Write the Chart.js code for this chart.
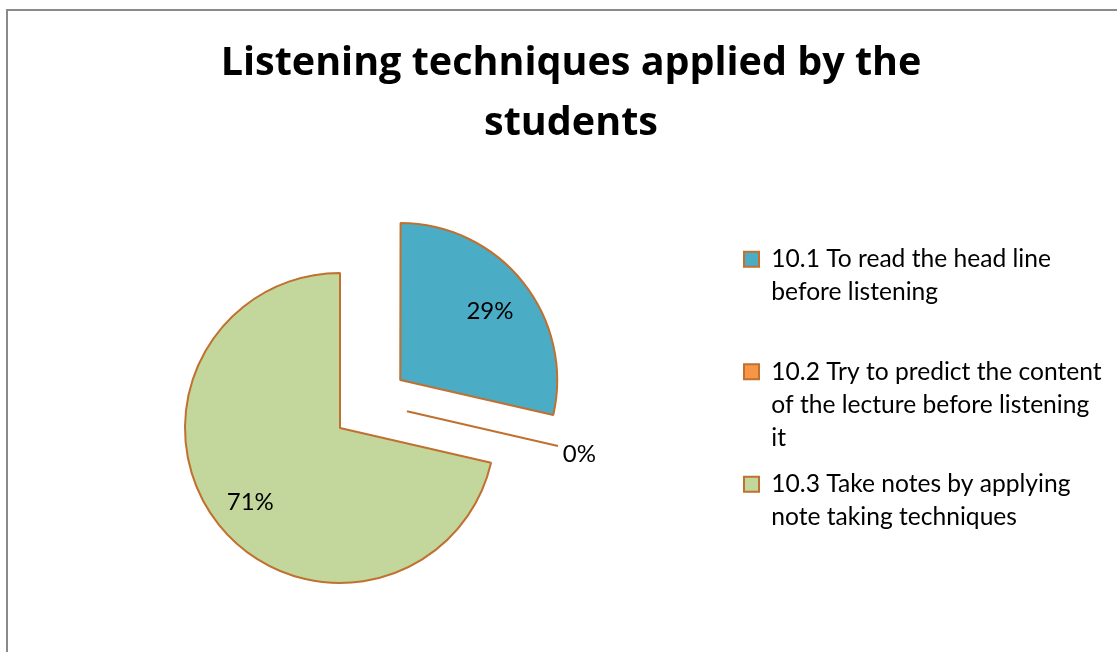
<!DOCTYPE html>
<html>
<head>
<meta charset="utf-8">
<script src="https://cdn.jsdelivr.net/npm/chart.js@4/dist/chart.umd.min.js"></script>
<style>
  html, body { margin: 0; padding: 0; background: #fff; overflow: hidden; }
  #wrap { position: relative; width: 1117px; height: 652px; }
  #wrap canvas { position: absolute; left: 0; top: 0; }
  #frame {
    position: absolute; left: 6px; top: 9px; width: 1200px; height: 700px;
    border-left: 2px solid #8a8a8a; border-top: 2px solid #8a8a8a;
    pointer-events: none;
  }
</style>
</head>
<body>
<div id="wrap">
  <canvas id="chart" width="1117" height="652"></canvas>
  <div id="frame"></div>
</div>
<script>
// Chart text and values
const titleLines = ['Listening techniques applied by the', 'students'];
const categories = [
  ['10.1 To read the head line', 'before listening'],
  ['10.2 Try to predict the content', 'of the lecture before listening', 'it'],
  ['10.3 Take notes by applying', 'note taking techniques']
];
const shares = [28.6, 0, 71.4];

// Styling
const sliceColors = ['#4BACC6', '#F79646', '#C3D69B'];
const edgeColor = '#C0702F';
const FONT = 'Lato, "Open Sans", sans-serif';
const TITLE_FONT = '"Open Sans", Lato, sans-serif';

const PIE_RADIUS = 155;
const LEGEND_GAP = 122;          // empty band between the pie area and the legend
const ZERO_EXPLODE = 69;         // pull-out distance of an empty slice
const ZERO_TURN = -27 * Math.PI / 180;

// Reserves an empty band on the right of the plot area, inside the legend,
// and lets the legend text run on to the right edge of the canvas.
const legendGap = {
  id: 'legendGap',
  beforeInit(chart) {
    Chart.layouts.addBox(chart, {
      position: 'right', weight: 500, fullSize: false,
      options: {},
      width: 0, height: 0, left: 0, top: 0, right: 0, bottom: 0,
      isHorizontal() { return false; },
      getPadding() { return { left: 0, top: 0, right: 0, bottom: 0 }; },
      update(maxWidth, maxHeight) { this.width = LEGEND_GAP; this.height = maxHeight; },
      draw() {}
    });
  },
  afterLayout(chart) {
    const lg = chart.legend;
    if (lg) {
      lg.right = chart.width;
      lg.width = lg.right - lg.left;
    }
  }
};

function zeroApex(arc) {
  const a = arc.startAngle + ZERO_TURN;
  return { x: arc.x + Math.cos(a) * ZERO_EXPLODE, y: arc.y + Math.sin(a) * ZERO_EXPLODE };
}

// Empty slices are drawn as a single pulled-out edge line.
const zeroSlices = {
  id: 'zeroSlices',
  afterDatasetsDraw(chart) {
    const meta = chart.getDatasetMeta(0);
    const ctx = chart.ctx;
    ctx.save();
    meta.data.forEach((arc) => {
      if (arc.endAngle - arc.startAngle > 0) return;
      const p = zeroApex(arc);
      const a = arc.startAngle;
      ctx.strokeStyle = arc.options.borderColor;
      ctx.lineWidth = arc.options.borderWidth;
      ctx.beginPath();
      ctx.moveTo(p.x, p.y);
      ctx.lineTo(p.x + Math.cos(a) * arc.outerRadius, p.y + Math.sin(a) * arc.outerRadius);
      ctx.stroke();
    });
    ctx.restore();
  }
};

// Percentage labels on each slice.
const sliceLabels = {
  id: 'sliceLabels',
  afterDatasetsDraw(chart) {
    const meta = chart.getDatasetMeta(0);
    const values = chart.data.datasets[0].data;
    const total = values.reduce((s, v) => s + v, 0);
    const ctx = chart.ctx;
    ctx.save();
    ctx.font = '24px ' + FONT;
    ctx.fillStyle = '#000';
    ctx.textAlign = 'center';
    ctx.textBaseline = 'middle';
    meta.data.forEach((arc, i) => {
      const text = Math.round(values[i] / total * 100) + '%';
      const mid = (arc.startAngle + arc.endAngle) / 2;
      let x, y;
      if (arc.endAngle - arc.startAngle <= 0) {
        const p = zeroApex(arc);
        x = p.x + Math.cos(mid) * (arc.outerRadius + 22);
        y = p.y + Math.sin(mid) * (arc.outerRadius + 22);
      } else {
        const shift = (arc.options.offset || 0) / 4;
        const r = shift + arc.outerRadius * 0.74;
        x = arc.x + Math.cos(mid) * r;
        y = arc.y + Math.sin(mid) * r;
      }
      ctx.fillText(text, x, y + 3);
    });
    ctx.restore();
  }
};

function legendLabels(chart) {
  const base = (Chart.overrides.pie || Chart.overrides.doughnut).plugins.legend.labels.generateLabels(chart);
  const rows = Math.max(...base.map(it => [].concat(it.text).length));
  base.forEach(it => {
    const lines = [].concat(it.text);
    while (lines.length < rows) lines.push('');
    it.text = lines;
    it.lineWidth = 2;
  });
  return base;
}

Chart.defaults.font.family = FONT;
Chart.defaults.color = '#000';

new Chart(document.getElementById('chart'), {
  type: 'pie',
  data: {
    labels: categories,
    datasets: [{
      data: shares,
      backgroundColor: sliceColors,
      borderColor: edgeColor,
      borderWidth: 2,
      radius: PIE_RADIUS,
      offset: [308, 0, 0],
      hoverOffset: 0
    }]
  },
  options: {
    responsive: false,
    animation: false,
    events: [],
    layout: { padding: { left: 71.5, right: 46.5, top: 0, bottom: 29.5 } },
    plugins: {
      title: {
        display: true,
        text: titleLines,
        color: '#000',
        font: { family: TITLE_FONT, size: 39.5, weight: 'bold', lineHeight: '60px' },
        padding: { top: 34, bottom: 79.5 }
      },
      legend: {
        position: 'right',
        align: 'start',
        fullSize: false,
        maxWidth: 340,
        labels: {
          color: '#000',
          font: { family: FONT, size: 24.6, lineHeight: '33px' },
          boxWidth: 15,
          boxHeight: 15,
          padding: 13.5,
          generateLabels: legendLabels
        }
      },
      tooltip: { enabled: false }
    }
  },
  plugins: [legendGap, zeroSlices, sliceLabels]
});
</script>
</body>
</html>
